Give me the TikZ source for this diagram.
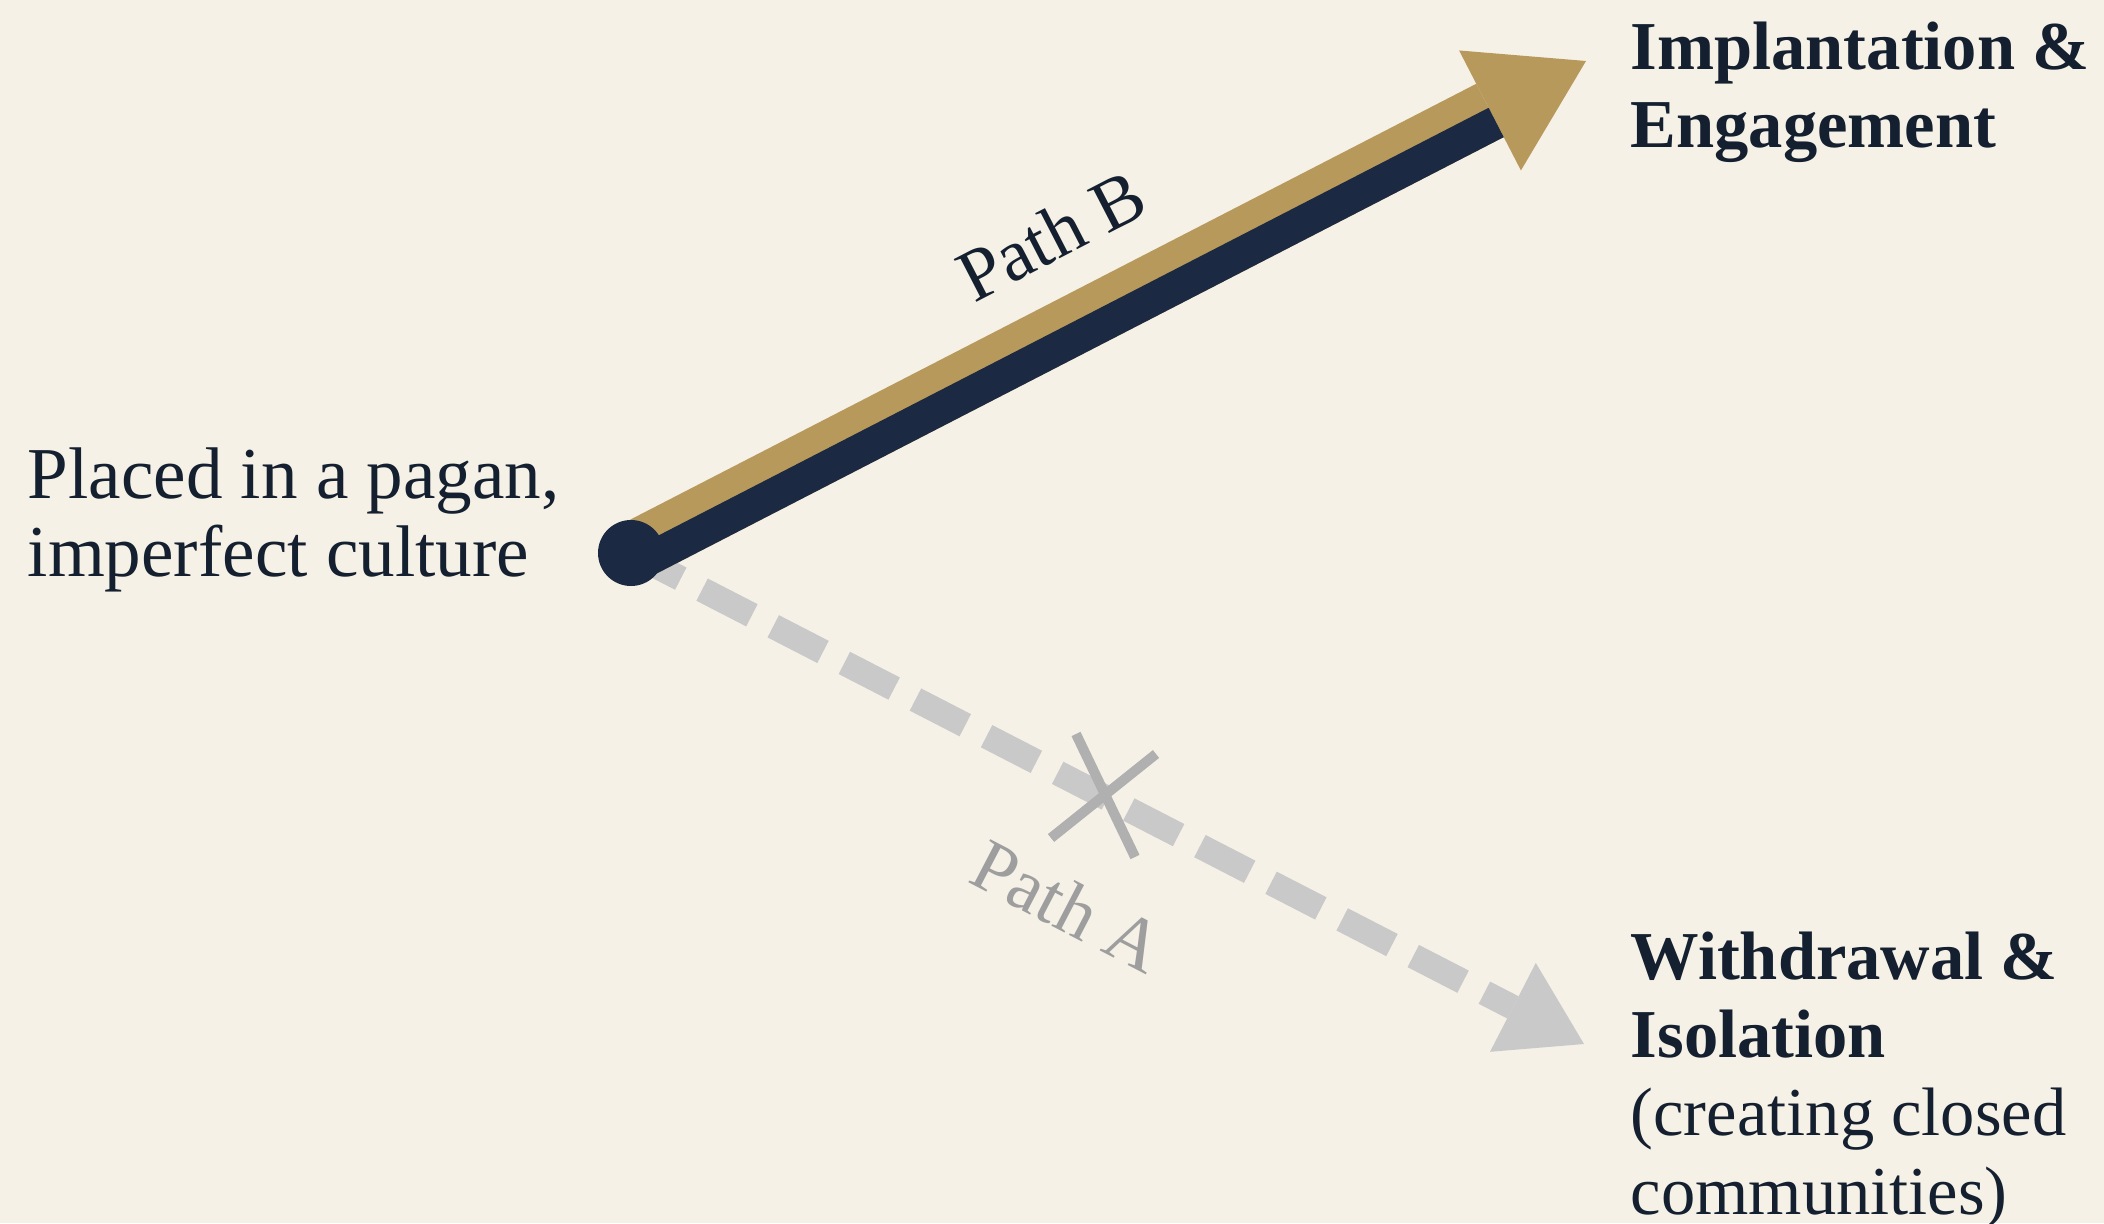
\documentclass[tikz,border=0pt]{standalone}
\usepackage{fontspec}
\setmainfont{Liberation Serif}
\usetikzlibrary{positioning, arrows.meta, calc}

\definecolor{paper}{RGB}{246,241,230}
\definecolor{ink}{RGB}{20,32,48}
\definecolor{navy}{RGB}{27,42,66}
\definecolor{gold}{RGB}{184,153,92}
\definecolor{fog}{RGB}{201,201,201}
\definecolor{fogdark}{RGB}{176,176,176}
\definecolor{fogtext}{RGB}{158,158,158}

\pgfdeclarelayer{paperlayer}
\pgfdeclarelayer{linelayer}
\pgfsetlayers{paperlayer,linelayer,main}

\begin{document}
\begin{tikzpicture}[
  txt/.style={anchor=base west, align=left, inner sep=0pt, text=ink,
              font=\fontsize{19.5}{22.2}\selectfont},
  lbl/.style={font=\fontsize{21}{24}\selectfont, inner sep=0pt},
  dotnode/.style={circle, fill=navy, minimum size=6.6mm, inner sep=0pt},
  pathb/.style={gold, line width=6mm,
                -{Triangle[length=10.8mm, width=13.5mm, line width=0pt]}},
  patha/.style={fog, line width=2.5mm, dash pattern=on 5.6mm off 2.4mm,
                -{Triangle[length=8mm, width=10mm, line width=0pt]}},
  cross/.style={fogdark, line width=1mm}
]
  \begin{pgfonlayer}{paperlayer}
    \fill[paper] (0,0) rectangle (21.04,12.23);
  \end{pgfonlayer}
  \useasboundingbox (0,0) rectangle (21.04,12.23);

  % start point and the two ends
  \node[dotnode] (start) at (6.31,6.70) {};
  \coordinate (btip) at (15.86,11.62);
  \coordinate (atip) at (15.84,1.79);
  \coordinate (hb) at ($(btip)!10.8mm!(start.center)$);

  \node[txt, font=\fontsize{20.8}{22.2}\selectfont] (culture) at (0.27,6.46)
    {Placed in a pagan,\\imperfect culture};
  \node[txt, font=\fontsize{19.5}{22.2}\selectfont\bfseries] (engage) at (16.30,10.75)
    {Implantation \&\\Engagement};
  \node[txt] (withdraw) at (16.30,0.09)
    {\textbf{Withdrawal \&}\\\textbf{Isolation}\\(creating closed\\communities)};

  \begin{pgfonlayer}{linelayer}
    % path A, crossed out
    \draw[patha] (start.center) -- (atip);
    \draw[cross] (10.76,4.89) -- (11.35,3.66);
    \draw[cross] (11.56,4.69) -- (10.51,3.85);
    % path B
    \draw[pathb] (start.center) -- (btip);
    \draw[navy, line width=3.3mm] ($(start.center)!1.35mm!-90:(btip)$)
      -- ($(hb)!1.35mm!90:(start.center)$);
  \end{pgfonlayer}

  \node[lbl, text=ink, rotate=27.3] (labb) at (10.51,9.88) {Path B};
  \node[lbl, text=fogtext, rotate=-27.5] (laba) at (10.68,3.17) {Path A};
\end{tikzpicture}
\end{document}
